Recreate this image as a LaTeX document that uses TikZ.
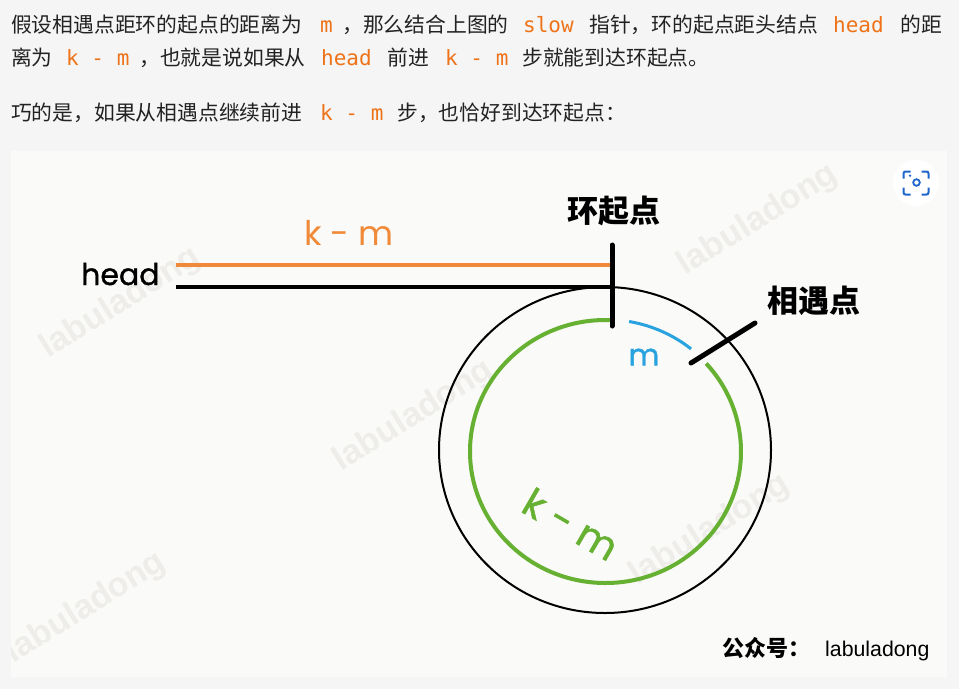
\documentclass[tikz,border=0pt]{standalone}
\usepackage{fontspec}
\usepackage{tikz}
\usetikzlibrary{positioning,calc}
\newfontfamily\cjk{Noto Sans CJK SC}
\newfontfamily\codef{DejaVu Sans Mono}
\newfontfamily\hand{Poppins}
\newfontfamily\handm{Poppins}[FakeBold=1.2]
\newfontfamily\arialf{Liberation Sans}
\definecolor{pagebg}{HTML}{F5F5F5}
\definecolor{imgbg}{HTML}{FAFAF8}
\definecolor{txt}{HTML}{222222}
\definecolor{codeor}{HTML}{EE7318}
\definecolor{lineor}{HTML}{F08A38}
\definecolor{ringgreen}{HTML}{66B032}
\definecolor{ringblue}{HTML}{29A3E0}
\definecolor{wmark}{HTML}{EEEDEA}
\definecolor{iconblue}{HTML}{1E66CC}
\tikzset{
  para/.style={anchor=base west, inner sep=0pt, text=txt, font=\cjk\fontsize{20.8}{25}\selectfont},
  inl/.style={anchor=base west, inner sep=0pt, text=codeor, font=\codef\fontsize{21}{25}\selectfont},
  lbl/.style={inner sep=0pt, font=\handm\fontsize{30}{36}\selectfont},
  biglbl/.style={inner sep=0pt, font=\hand\fontsize{34}{40}\selectfont},
  cjkb/.style={inner sep=0pt, font=\cjk\bfseries\fontsize{31}{36}\selectfont},
  wm/.style={inner sep=0pt, text=wmark, rotate=32, font=\arialf\bfseries\fontsize{34}{40}\selectfont},
  seg/.style={line width=4pt},
  notch/.style={line width=5pt, line cap=round}}
\begin{document}
\begin{tikzpicture}[x=1pt,y=-1pt]
  \fill[pagebg] (0,0) rectangle (959,689);
  \useasboundingbox (0,0) rectangle (959,689);
  \node[para] (p1a) at (11,32) {假设相遇点距环的起点的距离为};
  \node[inl] (p1b) at (320,32) {m};
  \node[para] (p1c) at (342,32) {，那么结合上图的};
  \node[inl] (p1d) at (523,32) {slow};
  \node[para] (p1e) at (589,32) {指针，环的起点距头结点};
  \node[inl] (p1f) at (833,32) {head};
  \node[para] (p1g) at (900,32) {的距};
  \node[para] (p2a) at (11,65) {离为};
  \node[inl] (p2b) at (66,65) {k - m};
  \node[para] (p2c) at (139,65) {，也就是说如果从};
  \node[inl] (p2d) at (321,65) {head};
  \node[para] (p2e) at (387,65) {前进};
  \node[inl] (p2f) at (445,65) {k - m};
  \node[para] (p2g) at (522,65) {步就能到达环起点。};
  \node[para] (p3a) at (11,120) {巧的是，如果从相遇点继续前进};
  \node[inl] (p3b) at (320,120) {k - m};
  \node[para] (p3c) at (397,120) {步，也恰好到达环起点：};
  \begin{scope}
    \clip (11,151) rectangle (947,677);
    \fill[imgbg] (11,151) rectangle (947,677);
    \foreach \wx/\wy [count=\i] in {121/303,758/220,414/416,86/608,710/530}
      \node[wm] (wm\i) at (\wx,\wy) {labuladong};
  \end{scope}
  \coordinate (hl) at (176,265); \coordinate (hr) at (611,265);
  \coordinate (bl) at (176,287); \coordinate (br) at (611,287);
  \coordinate (ttop) at (612,245); \coordinate (tbot) at (612,326);
  \coordinate (oc) at (605,450); \coordinate (gc) at (605.5,451.5);
  \coordinate (ma) at (691,363); \coordinate (mb) at (755,323);
  \node[lbl, anchor=base west] (headlbl) at (81,285) {head};
  \node[biglbl, text=lineor, anchor=base] (kmtop) at (349,245) {k - m};
  \draw[lineor, line width=3.5pt] (hl) -- (hr);
  \draw[seg] (bl) -- (br);
  \draw[line width=2pt] (oc) ellipse[x radius=166pt, y radius=163pt];
  \draw[ringgreen, line width=4pt] (gc) ++(88:135.5pt and 131.5pt)
    arc[start angle=88, end angle=402, x radius=135.5pt, y radius=131.5pt];
  \draw[ringblue, line width=3pt] (gc) ++(80:136pt and 132pt)
    arc[start angle=80, end angle=51, x radius=136pt, y radius=132pt];
  \node[lbl, text=ringblue] (mlbl) at (644,357) {m};
  \draw[notch] (ttop) -- (tbot);
  \draw[notch] (ma) -- (mb);
  \node[cjkb] (start) at (613.5,211) {环起点};
  \node[cjkb] (meet) at (813.5,300.5) {相遇点};
  \node[lbl, text=ringgreen, rotate=-30, font=\handm\fontsize{39}{44}\selectfont] (kmring) at (571,524) {k - m};
  \node[cjkb, anchor=base west, font=\cjk\bfseries\fontsize{22}{26}\selectfont] (gzh) at (722,656) {公众号：};
  \node[anchor=base west, inner sep=0pt, font=\arialf\fontsize{21.3}{24}\selectfont] (brand) at (825,656) {labuladong};
  \node[circle, fill=white, minimum size=46pt, inner sep=0pt] (zoombtn) at (916,183) {};
  \begin{scope}[shift={(zoombtn)}, iconblue, line width=2pt, rounded corners=2pt]
    \draw (-12.5,-4.5) |- (-5.5,-11.5);
    \draw (5.5,-11.5) -| (12.5,-4.5);
    \draw (12.5,4.5) |- (5.5,11.5);
    \draw (-5.5,11.5) -| (-12.5,4.5);
    \draw[line width=1.8pt] (0.5,-0.5) circle[radius=3.3pt];
    \fill (-6,-7.3) circle[radius=1.3pt];
  \end{scope}
\end{tikzpicture}
\end{document}
